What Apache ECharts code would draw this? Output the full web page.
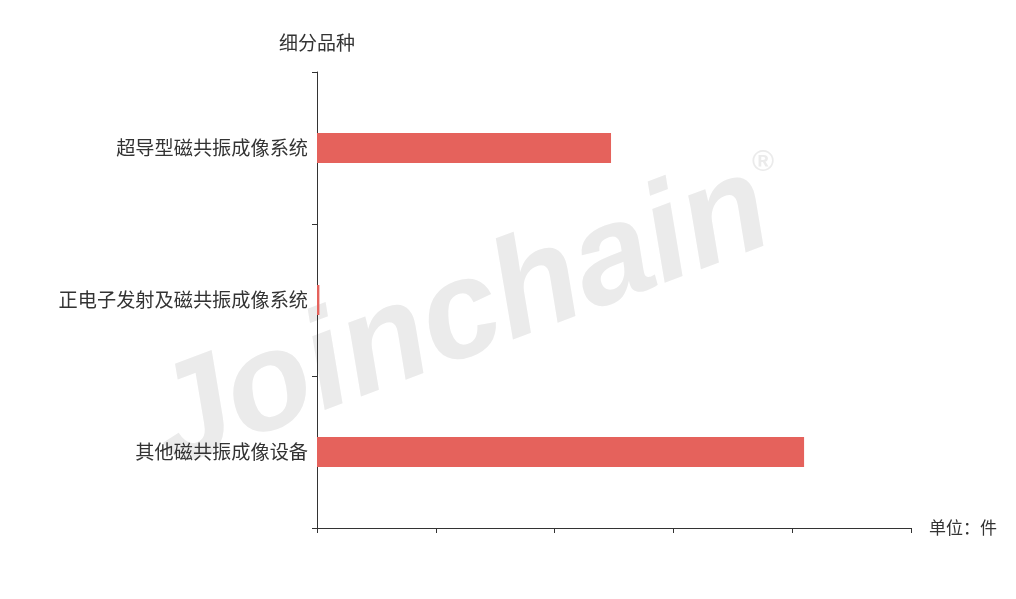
<!DOCTYPE html>
<html>
<head>
<meta charset="utf-8">
<script src="https://cdn.jsdelivr.net/npm/echarts@6/dist/echarts.min.js"></script>
<style>
html,body{margin:0;padding:0;background:#fff;}
#chart{width:1016px;height:599px;}
</style>
</head>
<body>
<div id="chart"></div>
<script>
var categories = ['其他磁共振成像设备', '正电子发射及磁共振成像系统', '超导型磁共振成像系统'];
var values = [410, 2, 247.5];
var xMax = 500;
var xInterval = 100;

var chart = echarts.init(document.getElementById('chart'));
var font = '"Noto Sans CJK SC", "Noto Sans", sans-serif';
chart.setOption({
  backgroundColor: '#ffffff',
  animation: false,
  graphic: [
    {
      type: 'text',
      x: 461, y: 318,
      rotation: 20.5 * Math.PI / 180,
      z: -10,
      style: {
        text: 'Joinchain',
        fontFamily: '"Liberation Sans", Arial, sans-serif',
        fontWeight: 'bold',
        fontStyle: 'italic',
        fontSize: 139,
        fill: '#ebebeb',
        align: 'center',
        verticalAlign: 'middle'
      }
    },
    {
      type: 'text',
      x: 763, y: 163,
      z: -10,
      style: {
        text: '®',
        fontFamily: '"Liberation Sans", Arial, sans-serif',
        fontSize: 30,
        fontWeight: 'bold',
        fill: '#ebebeb',
        align: 'center',
        verticalAlign: 'middle'
      }
    }
  ],
  grid: { left: 317, right: 105, top: 72, bottom: 71, containLabel: false },
  xAxis: {
    type: 'value',
    min: 0, max: xMax, interval: xInterval,
    name: '单位：件',
    nameLocation: 'end',
    nameGap: 18,
    nameTextStyle: { color: '#333', fontSize: 17, fontFamily: font },
    axisLine: { show: true, lineStyle: { color: '#333' } },
    axisTick: { show: true, length: 5, lineStyle: { color: '#333' } },
    axisLabel: { show: false },
    splitLine: { show: false }
  },
  yAxis: {
    type: 'category',
    data: categories,
    name: '细分品种',
    nameLocation: 'end',
    nameGap: 20,
    nameTextStyle: { color: '#333', fontSize: 19, fontFamily: font, align: 'center' },
    axisLine: { show: true, lineStyle: { color: '#333' } },
    axisTick: { show: true, length: 5, lineStyle: { color: '#333' } },
    axisLabel: { color: '#333', fontSize: 19.2, fontFamily: font, margin: 9 },
    splitLine: { show: false }
  },
  series: [{
    type: 'bar',
    data: values,
    barWidth: 30,
    itemStyle: { color: '#e5625c' }
  }]
});
</script>
</body>
</html>
